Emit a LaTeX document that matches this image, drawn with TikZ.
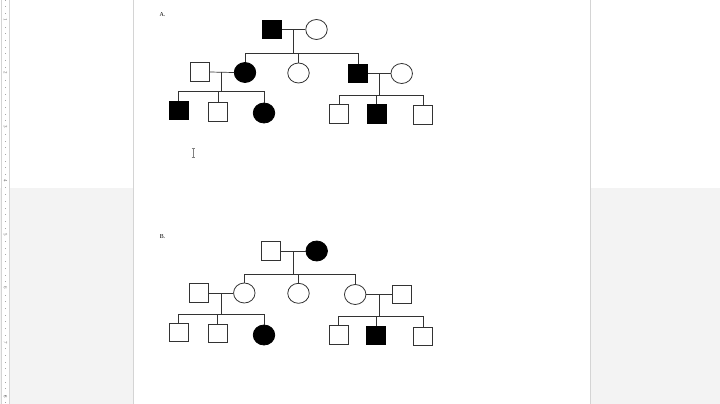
\documentclass[tikz,border=0pt]{standalone}
\usepackage{fontspec}
\setmainfont{Liberation Serif}
\usetikzlibrary{shapes.geometric}
\definecolor{bggray}{HTML}{F3F3F3}
\definecolor{edgegray}{HTML}{D4D4D4}
\definecolor{ink}{HTML}{333333}
\tikzset{
  male/.style={rectangle,draw=ink,line width=0.8pt,minimum width=19pt,minimum height=18.5pt,inner sep=0pt,fill=white},
  female/.style={ellipse,draw=ink,line width=0.8pt,minimum width=21.5pt,minimum height=20pt,inner sep=0pt,fill=white},
  aff/.style={fill=black,draw=black},
  link/.style={draw=ink,line width=0.7pt},
  lbl/.style={font=\fontsize{6}{7}\selectfont,inner sep=0pt},
  rulenum/.style={font=\fontsize{5}{5}\selectfont,text=gray!80!black,inner sep=0pt,rotate=-90}
}
\begin{document}
\begin{tikzpicture}[x=1pt,y=-1pt]
% background
\useasboundingbox (0,0) rectangle (720,404);
\fill[white] (0,0) rectangle (720,404);
\fill[bggray] (0,188) rectangle (720,404);
\fill[white] (133,0) rectangle (590,404);
\draw[edgegray,line width=0.8pt] (133,0) -- (133,404);
\draw[edgegray,line width=0.8pt] (590.5,0) -- (590.5,404);
% ruler
\fill[white] (1,0) rectangle (9.5,404);
\draw[edgegray,line width=0.6pt] (1,0) -- (1,404);
\draw[edgegray,line width=0.6pt] (9.5,0) -- (9.5,404);
\foreach \k in {0,...,60} {
  \pgfmathsetmacro{\yy}{\k*6.7}
  \draw[gray!70,line width=0.4pt] (5,\yy) -- (6,\yy);
}
\foreach \k/\yy in {1/20,2/73,3/127,4/181,5/235,6/288,7/343,8/397} {
  \node[rulenum,fill=white] (r\k) at (5.5,\yy) {\k};
}
% text cursor
\draw[gray,line width=0.6pt] (193,148) -- (193,157);
\draw[gray,line width=0.5pt] (191.5,148) -- (194.5,148);
\draw[gray,line width=0.5pt] (191.5,157) -- (194.5,157);

% ---------------- Pedigree A ----------------
\node[lbl] (labA) at (162.5,15) {A.};
\node[male,aff] (a1) at (272,29.5) {};
\node[female] (a2) at (316.5,29.5) {};
\coordinate (am) at (293.3,29.5);
\coordinate (as) at (293.3,53.3);
\node[male] (b1) at (199.5,72) {};
\node[female,aff] (b2) at (245,72.5) {};
\node[female] (b3) at (298.5,73) {};
\node[male,aff] (b4) at (358,73.5) {};
\node[female] (b5) at (401.7,73.5) {};
\coordinate (cm) at (221.7,72);
\coordinate (cs) at (221.7,91.7);
\coordinate (dm) at (379.3,73.5);
\coordinate (ds) at (379.3,95.3);
\node[male,aff] (c1) at (178.8,110.5) {};
\node[male] (c2) at (218,111.7) {};
\node[female,aff] (c3) at (264,113) {};
\node[male] (d1) at (339,113.7) {};
\node[male,aff] (d2) at (376.7,114) {};
\node[male] (d3) at (423,115) {};

\draw[link] (a1.east) -- (a2.west);
\draw[link] (am) -- (as);
\draw[link] (b2.north) |- (as) -| (b4.north);
\draw[link] (b3.north) -- (b3.north |- as);
\draw[link] (b1.east) -- (b2.west);
\draw[link] (cm) -- (cs);
\draw[link] (c1.north) |- (cs) -| (c3.north);
\draw[link] (c2.north) -- (c2.north |- cs);
\draw[link] (b4.east) -- (b5.west);
\draw[link] (dm) -- (ds);
\draw[link] (d1.north) |- (ds) -| (d3.north);
\draw[link] (d2.north) -- (d2.north |- ds);

% ---------------- Pedigree B ----------------
\node[lbl] (labB) at (162.5,237) {B.};
\node[male] (e1) at (271,251) {};
\node[female,aff] (e2) at (316.7,251) {};
\coordinate (em) at (293.3,251);
\coordinate (es) at (293.3,274.3);
\node[male] (f1) at (199,293) {};
\node[female] (f2) at (244.3,293) {};
\node[female] (f3) at (298.5,293.3) {};
\node[female] (f4) at (355.2,294.5) {};
\node[male] (f5) at (402,294.5) {};
\coordinate (fm) at (221.7,293);
\coordinate (fs) at (221.7,314.3);
\coordinate (hm) at (379.3,294.5);
\coordinate (hs) at (379.3,316.7);
\node[male] (g1) at (178.5,332.5) {};
\node[male] (g2) at (217.8,333.3) {};
\node[female,aff] (g3) at (264,335) {};
\node[male] (h1) at (338.7,335) {};
\node[male,aff] (h2) at (376.3,335.3) {};
\node[male] (h3) at (423,336.5) {};

\draw[link] (e1.east) -- (e2.west);
\draw[link] (em) -- (es);
\draw[link] (f2.north) |- (es) -| (f4.north);
\draw[link] (f3.north) -- (f3.north |- es);
\draw[link] (f1.east) -- (f2.west);
\draw[link] (fm) -- (fs);
\draw[link] (g1.north) |- (fs) -| (g3.north);
\draw[link] (g2.north) -- (g2.north |- fs);
\draw[link] (f4.east) -- (f5.west);
\draw[link] (hm) -- (hs);
\draw[link] (h1.north) |- (hs) -| (h3.north);
\draw[link] (h2.north) -- (h2.north |- hs);
\end{tikzpicture}
\end{document}
